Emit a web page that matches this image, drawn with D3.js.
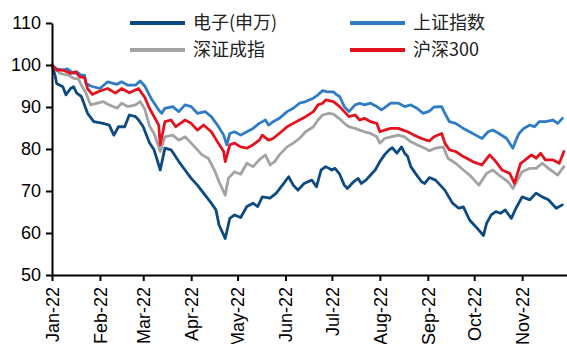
<!DOCTYPE html>
<html><head><meta charset="utf-8">
<script src="https://cdn.jsdelivr.net/npm/d3@7"></script>
<style>body{margin:0;background:#fff}svg{display:block}</style>
</head><body><svg id="c" width="567" height="344"></svg>
<script>
const seriesNames = ["电子(申万)", "上证指数", "深证成指", "沪深300"];
const yTicks = [50, 60, 70, 80, 90, 100, 110];
const monthTicks = ["2022-01-01","2022-02-01","2022-03-01","2022-04-01","2022-05-01","2022-06-01","2022-07-01","2022-08-01","2022-09-01","2022-10-01","2022-11-01"];

const elec = [["01-01",100],["01-03",97.5],["01-04",95.6],["01-08",94.8],["01-10",92.9],["01-13",94.4],["01-15",94.8],["01-17",93.3],["01-20",92.5],["01-22",90.5],["01-24",88.5],["01-28",86.5],["02-03",86.1],["02-07",85.7],["02-10",83.3],["02-13",85.3],["02-17",85.3],["02-20",88.1],["02-24",87.7],["02-26",86.9],["03-01",85.3],["03-05",81.5],["03-08",79.8],["03-12",75.0],["03-15",80.2],["03-19",79.8],["03-24",77.0],["03-28",75.0],["04-01",73.0],["04-05",71.4],["04-10",69.0],["04-14",67.1],["04-17",65.5],["04-19",61.9],["04-23",58.7],["04-26",63.5],["04-29",64.3],["05-03",63.7],["05-07",66.3],["05-11",67.1],["05-14",66.3],["05-17",68.6],["05-22",68.3],["05-26",69.5],["05-30",71.4],["06-03",73.4],["06-06",71.4],["06-09",70.2],["06-13",71.8],["06-18",72.6],["06-21",71.0],["06-24",75.0],["06-27",75.8],["07-01",75.0],["07-03",75.4],["07-06",74.0],["07-09",71.4],["07-11",70.6],["07-15",72.2],["07-18",73.0],["07-20",71.8],["07-23",72.6],["07-26",73.8],["07-29",75.0],["08-01",77.0],["08-04",78.6],["08-07",79.8],["08-09",80.3],["08-12",79.0],["08-15",80.5],["08-17",79.0],["08-19",78.2],["08-21",75.8],["08-24",74.2],["08-28",72.2],["08-30",71.8],["09-02",73.2],["09-06",72.6],["09-12",70.2],["09-17",67.1],["09-21",65.9],["09-24",66.2],["09-28",63.1],["10-02",61.5],["10-07",59.4],["10-09",62.3],["10-12",64.3],["10-15",65.1],["10-18",64.7],["10-21",65.5],["10-25",63.5],["10-28",65.9],["11-01",68.6],["11-06",67.9],["11-10",69.5],["11-14",68.6],["11-18",67.9],["11-23",65.9],["11-27",66.7]];

const sse = [["01-01",100],["01-04",99.05],["01-08",98.8],["01-11",99.05],["01-15",98.0],["01-17",98.4],["01-20",97.5],["01-22",97.6],["01-23",95.6],["01-26",95.0],["02-01",94.4],["02-06",96.0],["02-12",95.4],["02-15",96.0],["02-19",95.2],["02-24",95.2],["02-27",96.2],["03-02",95.0],["03-06",92.1],["03-11",89.3],["03-13",88.5],["03-15",89.7],["03-20",90.1],["03-24",88.9],["03-28",90.5],["04-01",90.1],["04-05",88.5],["04-10",88.9],["04-14",87.7],["04-18",85.7],["04-22",83.3],["04-24",81.0],["04-26",83.7],["04-29",84.1],["05-03",83.3],["05-07",84.1],["05-11",84.9],["05-15",86.1],["05-19",86.9],["05-21",85.7],["05-24",86.5],["05-28",87.3],["06-02",88.9],["06-06",89.7],["06-10",90.9],["06-14",91.3],["06-19",92.1],["06-22",92.9],["06-25",93.9],["06-28",93.6],["07-02",93.6],["07-04",92.9],["07-06",92.5],["07-09",90.1],["07-12",88.9],["07-16",90.5],["07-19",90.9],["07-22",90.5],["07-26",90.9],["07-30",90.1],["08-02",89.3],["08-05",90.1],["08-08",90.9],["08-13",90.9],["08-17",90.1],["08-21",90.5],["08-25",89.7],["08-29",88.5],["09-02",89.0],["09-05",90.0],["09-10",90.1],["09-12",88.5],["09-15",86.5],["09-19",86.1],["09-24",84.9],["09-28",84.1],["10-02",83.3],["10-06",82.5],["10-10",84.1],["10-13",84.5],["10-17",83.7],["10-22",82.5],["10-26",80.2],["10-28",82.1],["10-30",83.7],["11-02",84.9],["11-06",85.7],["11-09",85.3],["11-12",86.5],["11-16",86.5],["11-21",86.9],["11-24",86.1],["11-27",87.3]];

const szse = [["01-01",100],["01-03",99.2],["01-06",98.0],["01-12",97.5],["01-15",96.8],["01-18",96.7],["01-20",95.2],["01-23",93.3],["01-26",90.5],["02-03",91.3],["02-07",90.5],["02-12",89.7],["02-15",90.9],["02-19",90.1],["02-24",90.5],["02-27",91.3],["03-02",89.5],["03-05",85.5],["03-08",83.7],["03-12",79.4],["03-15",82.9],["03-20",83.3],["03-24",82.1],["03-28",82.9],["04-01",81.4],["04-04",80.2],["04-08",78.6],["04-12",77.8],["04-16",75.0],["04-19",72.2],["04-23",69.0],["04-25",73.0],["04-29",74.6],["05-03",74.0],["05-07",76.6],["05-11",75.8],["05-15",77.4],["05-19",78.6],["05-22",76.2],["05-25",77.0],["05-28",78.6],["06-02",80.5],["06-06",81.4],["06-10",82.5],["06-14",84.1],["06-19",85.3],["06-22",86.9],["06-25",88.1],["06-29",88.5],["07-02",88.3],["07-06",87.2],["07-09",86.1],["07-12",85.3],["07-16",84.9],["07-19",84.5],["07-22",84.1],["07-26",83.7],["07-30",82.9],["08-01",81.4],["08-04",82.5],["08-08",82.9],["08-13",83.3],["08-17",82.9],["08-21",81.7],["08-25",81.0],["08-30",80.2],["09-02",79.6],["09-06",80.2],["09-11",80.5],["09-14",77.8],["09-19",76.6],["09-24",75.0],["09-28",73.8],["10-04",71.4],["10-09",74.2],["10-13",75.0],["10-17",73.8],["10-23",72.2],["10-26",70.6],["10-29",72.6],["11-01",74.6],["11-06",75.4],["11-10",75.4],["11-14",76.6],["11-18",75.4],["11-24",73.8],["11-28",75.8]];

const hs300 = [["01-01",100],["01-04",98.8],["01-08",98.8],["01-13",98.0],["01-16",98.4],["01-19",97.2],["01-22",97.0],["01-24",94.4],["01-27",93.0],["02-01",93.8],["02-06",94.4],["02-11",93.3],["02-15",94.4],["02-20",93.4],["02-26",94.4],["02-28",93.3],["03-02",92.3],["03-05",89.7],["03-08",87.7],["03-11",85.7],["03-12",81.0],["03-15",86.5],["03-19",86.9],["03-22",85.3],["03-28",86.9],["04-01",86.1],["04-05",84.5],["04-09",85.7],["04-14",84.1],["04-18",81.7],["04-22",79.4],["04-23",77.0],["04-26",81.0],["04-29",81.4],["05-03",80.5],["05-07",80.2],["05-11",81.0],["05-15",82.1],["05-17",83.3],["05-21",82.1],["05-24",82.5],["05-28",83.7],["06-02",85.3],["06-06",86.1],["06-10",86.9],["06-14",87.7],["06-19",88.9],["06-22",90.5],["06-25",90.9],["06-27",91.7],["07-02",91.3],["07-06",90.1],["07-09",88.9],["07-12",87.7],["07-16",88.1],["07-19",86.9],["07-22",87.3],["07-26",86.5],["07-30",86.1],["08-01",84.1],["08-04",84.5],["08-08",84.9],["08-13",84.9],["08-16",84.5],["08-19",84.1],["08-23",83.3],["08-28",82.5],["08-31",82.1],["09-02",81.9],["09-05",82.9],["09-10",83.7],["09-12",81.4],["09-15",79.8],["09-19",79.4],["09-24",78.2],["09-30",77.0],["10-06",76.2],["10-11",78.6],["10-15",77.0],["10-19",75.0],["10-24",74.2],["10-27",71.8],["10-29",74.2],["10-31",76.6],["11-03",77.4],["11-07",78.6],["11-10",77.8],["11-13",79.0],["11-16",77.4],["11-21",77.4],["11-25",76.6],["11-28",79.4]];

const seriesData = [elec, sse, szse, hs300];
const colors = ["#0d4a80", "#2f7cc4", "#a3a3a3", "#e3121f"];
const drawOrder = [0, 1, 2, 3];

const parse = d3.timeParse("%Y-%m-%d");
const svg = d3.select("#c");
const x = d3.scaleTime().domain([parse("2022-01-01"), parse("2022-11-30")]).range([52, 567]);
const y = d3.scaleLinear().domain([50, 110]).range([275, 23]);

const line = d3.line().x(d => x(parse("2022-" + d[0]))).y(d => y(d[1])).curve(d3.curveLinear);

drawOrder.forEach(i => {
  svg.append("path").datum(seriesData[i])
    .attr("fill", "none").attr("stroke", colors[i]).attr("stroke-width", 2.8)
    .attr("stroke-linejoin", "round").attr("stroke-linecap", "round")
    .attr("d", line);
});

const yAxis = svg.append("g").attr("transform", "translate(52,0)")
  .call(d3.axisLeft(y).tickValues(yTicks).tickSize(6).tickSizeOuter(0).tickPadding(5));
yAxis.selectAll("path, line").attr("stroke", "#000").attr("stroke-width", 2);
yAxis.selectAll("text").attr("font-family", "Liberation Sans, Arial, sans-serif").attr("font-size", 18).attr("fill", "#000");

const xAxis = svg.append("g").attr("transform", "translate(0,275)")
  .call(d3.axisBottom(x).tickValues(monthTicks.map(parse)).tickSize(6).tickSizeOuter(0).tickFormat(d3.timeFormat("%b-%y")));
xAxis.selectAll("path, line").attr("stroke", "#000").attr("stroke-width", 2);
xAxis.selectAll("text")
  .attr("font-family", "Liberation Sans, Arial, sans-serif").attr("font-size", 18).attr("fill", "#000")
  .attr("text-anchor", "end").attr("transform", "translate(0,12) rotate(-90)")
  .attr("x", 0).attr("y", 0).attr("dy", "0.35em");

const legendPos = [[130, 23], [350, 23], [130, 50], [350, 50]];
seriesNames.forEach((name, i) => {
  const [lx, ly] = legendPos[i];
  const g = svg.append("g");
  g.append("line").attr("x1", lx).attr("x2", lx + 55).attr("y1", ly).attr("y2", ly)
    .attr("stroke", colors[i]).attr("stroke-width", 4);
  g.append("text").attr("x", lx + 63).attr("y", ly).attr("dy", "0.35em")
    .attr("font-family", "Noto Sans CJK SC, sans-serif").attr("font-size", 18).attr("fill", "#222")
    .text(name);
});
</script></body></html>
